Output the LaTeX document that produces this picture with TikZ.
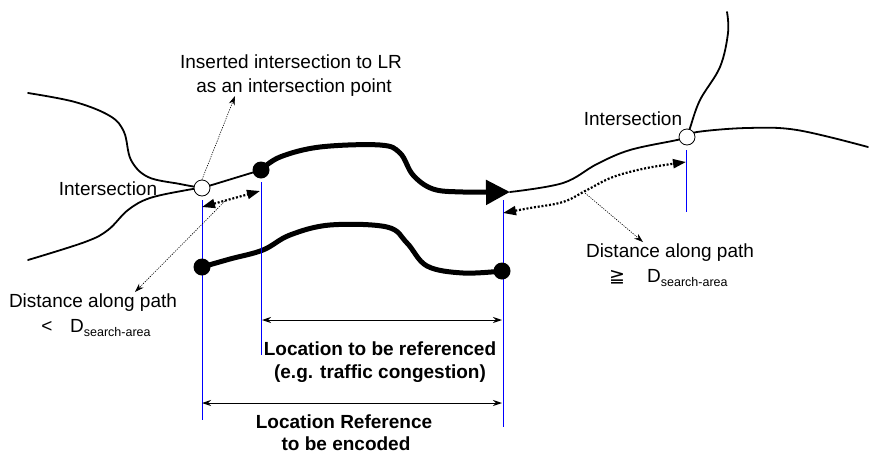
\documentclass[tikz,border=0pt]{standalone}
\usepackage{fontspec}
\setmainfont{Liberation Sans}
\newfontfamily\symfont{DejaVu Sans}
\usetikzlibrary{arrows.meta}
\begin{document}
\begin{tikzpicture}[x=1pt,y=-1pt,
 road/.style={line width=1.8pt, line cap=round},
 thickpath/.style={line width=5pt, line cap=round},
 opencirc/.style={circle, draw, line width=0.8pt, fill=white, minimum size=16pt, inner sep=0pt},
 dot/.style={circle, fill=black, minimum size=17pt, inner sep=0pt},
 guide/.style={draw=blue, line width=0.8pt},
 dimarrow/.style={line width=1pt, {Stealth[length=9pt,width=6pt]}-{Stealth[length=9pt,width=6pt]}},
 gaparrow/.style={line width=2.2pt, dash pattern=on 2pt off 1.8pt, {Triangle[length=13pt,width=9pt]}-{Triangle[length=13pt,width=9pt]}},
 pointer/.style={line width=0.6pt, dash pattern=on 1.2pt off 1.2pt, -{Stealth[length=9pt,width=6pt]}},
 lbl/.style={font=\fontsize{19}{22}\selectfont, inner sep=0pt, anchor=base},
 blbl/.style={font=\fontsize{19}{22}\selectfont\bfseries, inner sep=0pt, anchor=base},
]
\useasboundingbox[fill=white] (0,0) rectangle (886,461);

% key coordinates
\coordinate (cI1) at (202,188);
\coordinate (cI2) at (687,137);
\coordinate (cP1) at (261,170);
\coordinate (cA) at (510,192);
\coordinate (cL1) at (202,267);
\coordinate (cL2) at (502,271);

% roads
\draw[road] plot[smooth, tension=0.6] coordinates {(28,93) (75,102) (110,116) (124,132) (131,160) (148,177) (180,184) (cI1)};
\draw[road] plot[smooth, tension=0.6] coordinates {(cI1) (187,190) (150,198) (128,210) (108,230) (85,242) (28,260)};
\draw[road] (cI1) -- (cP1);
\draw[road] plot[smooth, tension=0.6] coordinates {(cA) (563,183) (597,164) (630,150) (677,140) (cI2)};
\draw[road] plot[smooth, tension=0.6] coordinates {(cI2) (697,132) (747,128) (797,130) (868,147)};
\draw[road] plot[smooth, tension=0.6] coordinates {(727,12) (728,33) (720,67) (700,100) (690,128) (cI2)};

% location (upper, with arrow) and location reference (lower)
\draw[thickpath, -{Triangle[length=24pt,width=24pt]}] plot[smooth, tension=0.6] coordinates {(cP1) (280,157) (320,147) (380,145) (400,153) (413,175) (433,189) (463,192) (cA)};
\draw[thickpath] plot[smooth, tension=0.6] coordinates {(cL1) (230,259) (263,250) (290,235) (330,225) (387,227) (407,243) (427,266) (463,273) (cL2)};

% blue guide lines
\coordinate (g1t) at (202,200); \coordinate (g1b) at (202,420);
\coordinate (g2t) at (261,182); \coordinate (g2b) at (261,355);
\coordinate (g3t) at (503,200); \coordinate (g3b) at (503,427);
\coordinate (g4t) at (686,150); \coordinate (g4b) at (686,212);
\draw[guide] (g1t) -- (g1b);
\draw[guide] (g2t) -- (g2b);
\draw[guide] (g3t) -- (g3b);
\draw[guide] (g4t) -- (g4b);

% nodes
\node[opencirc] (I1) at (cI1) {};
\node[opencirc] (I2) at (cI2) {};
\node[dot] (P1) at (cP1) {};
\node[dot] (L1) at (cL1) {};
\node[dot] (L2) at (cL2) {};

% distance arrows
\coordinate (dl1) at (202,207);
\coordinate (dl2) at (260,191);
\draw[gaparrow] (dl1) -- (dl2);
\coordinate (dr1) at (503,213);
\coordinate (dr2) at (686,162);
\draw[gaparrow] plot[smooth, tension=0.6] coordinates {(dr1) (530,208) (563,202) (587,190) (613,177) (647,168) (dr2)};

% dimension arrows
\coordinate (u1) at (262,320); \coordinate (u2) at (502,320);
\coordinate (w1) at (202,403); \coordinate (w2) at (502,403);
\draw[dimarrow] (u1) -- (u2);
\draw[dimarrow] (w1) -- (w2);

% labels
\node[lbl] (ins1) at (291,68) {Inserted intersection to LR};
\node[lbl] (ins2) at (294,92) {as an intersection point};
\node[lbl] (int1) at (108,195) {Intersection};
\node[lbl] (int2) at (633,125) {Intersection};
\node[lbl] (dl) at (93,307) {Distance along path};
\node[lbl] (lt) at (47,332) {<};
\node[lbl, anchor=base west] (dsl) at (70,332) {D\raisebox{-4pt}{\fontsize{12.5}{13}\selectfont search-area}};
\node[lbl] (dr) at (670,257) {Distance along path};
\node[lbl] (ge) at (617,282) {{\symfont ≧}};
\node[lbl, anchor=base west] (dsr) at (647,282) {D\raisebox{-4pt}{\fontsize{12.5}{13}\selectfont search-area}};
\node[blbl] (loc1) at (380,355) {Location to be referenced};
\node[blbl] (loc2) at (380,378) {(e.g. traffic congestion)};
\node[blbl] (lr1) at (344,428) {Location Reference};
\node[blbl] (lr2) at (346,450) {to be encoded};

% pointers
\coordinate (insTip) at (235,96);
\draw[pointer] (I1.north) -- (insTip);
\coordinate (pl0) at (225,201);
\coordinate (plTip) at (135,292);
\draw[pointer] (pl0) -- (plTip);
\coordinate (pr0) at (585,193);
\coordinate (prTip) at (643,242);
\draw[pointer] (pr0) -- (prTip);
\end{tikzpicture}
\end{document}
